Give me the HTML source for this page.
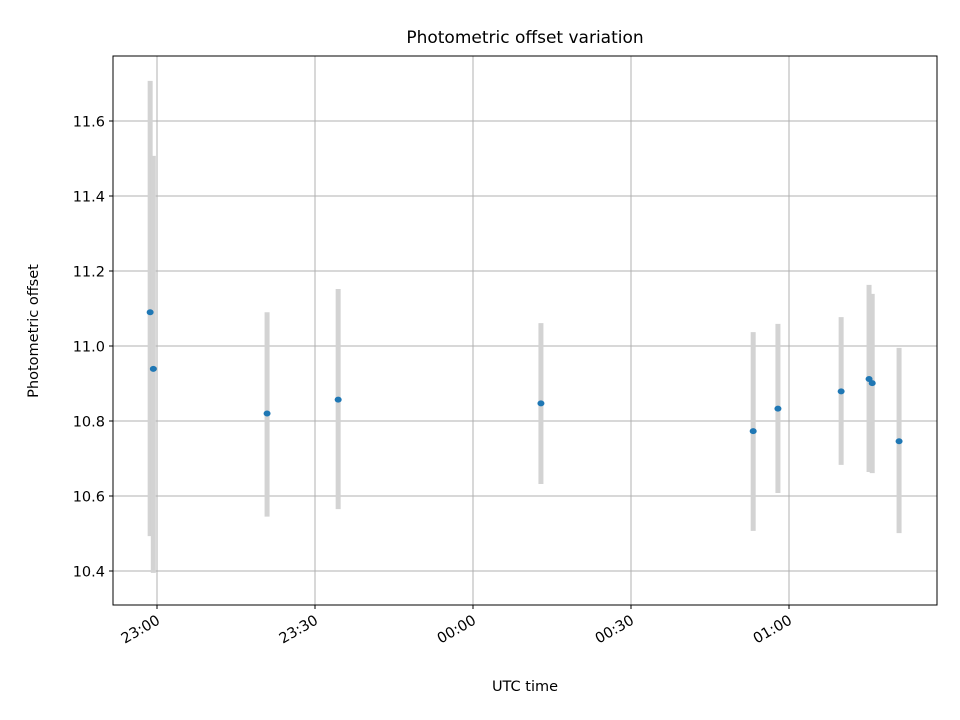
<!DOCTYPE html>
<html><head><meta charset="utf-8"><style>
body{margin:0;background:#fff}
svg{display:block;font-family:"DejaVu Sans","Liberation Sans",sans-serif}
</style></head><body>
<svg id="chart" width="960" height="720">
<rect width="960" height="720" fill="#fff"/>
<text x="525" y="43" font-size="17" text-anchor="middle">Photometric offset variation</text>
<g id="grid"></g><g id="bars"></g><g id="points"></g><g id="axes"></g>
<rect x="113" y="56" width="824" height="549" fill="none" stroke="#000" stroke-width="1"/>
<text x="525" y="691" font-size="14.5" text-anchor="middle">UTC time</text>
<text x="38" y="331" font-size="14.5" text-anchor="middle" transform="rotate(-90 38 331)">Photometric offset</text>
</svg>
<script>
const minutes=[-1.3,-0.7,20.9,34.4,72.9,113.2,117.9,129.9,135.2,135.8,140.9];
const offsets=[11.09,10.939,10.82,10.857,10.847,10.773,10.833,10.879,10.912,10.901,10.746];
const lows=[10.493,10.395,10.545,10.565,10.632,10.507,10.608,10.683,10.664,10.661,10.501];
const highs=[11.707,11.507,11.09,11.152,11.061,11.037,11.059,11.077,11.163,11.139,10.995];
const yTicks=[10.4,10.6,10.8,11.0,11.2,11.4,11.6];
const xTickMin=[0,30,60,90,120];
const xTickLabels=["23:00","23:30","00:00","00:30","01:00"];
const X=m=>157+m*158/30;
const Y=v=>571-(v-10.4)*375;
const NS="http://www.w3.org/2000/svg";
function mk(tag,attrs,parent){const e=document.createElementNS(NS,tag);for(const k in attrs)e.setAttribute(k,attrs[k]);document.getElementById(parent).appendChild(e);return e;}
yTicks.forEach((v,i)=>{
 const g=mk('line',{x1:113,x2:937,y1:Y(v),y2:Y(v),stroke:'#b0b0b0','stroke-width':1},'grid');
 
 
 const t=mk('line',{x1:109,x2:113,y1:Y(v),y2:Y(v),stroke:'#000'},'axes');
 
 
 const l=mk('text',{x:105,y:Y(v)+5.5,'font-size':14.5,'text-anchor':'end'},'axes');
 l.textContent=v.toFixed(1);
 
 
});
xTickMin.forEach((m,i)=>{
 const g=mk('line',{x1:X(m),x2:X(m),y1:56,y2:605,stroke:'#b0b0b0','stroke-width':1},'grid');
 
 
 const t=mk('line',{x1:X(m),x2:X(m),y1:605,y2:609,stroke:'#000'},'axes');
 
 
 const lx=X(m)+4, ly=623;
 const l=mk('text',{x:lx,y:ly,'font-size':14.5,'text-anchor':'end',transform:`rotate(-30 ${lx} ${ly})`},'axes');
 l.textContent=xTickLabels[i];
 
 
});
minutes.forEach((m,i)=>{
 const b=mk('line',{x1:X(m),x2:X(m),y1:Y(highs[i]),y2:Y(lows[i]),stroke:'#d3d3d3','stroke-width':5},'bars');
 
 
});
minutes.forEach((m,i)=>{
 const p=mk('ellipse',{cx:X(m),cy:Y(offsets[i]),rx:3.5,ry:3,fill:'#1f77b4'},'points');
 
 
});
</script>
</body></html>
